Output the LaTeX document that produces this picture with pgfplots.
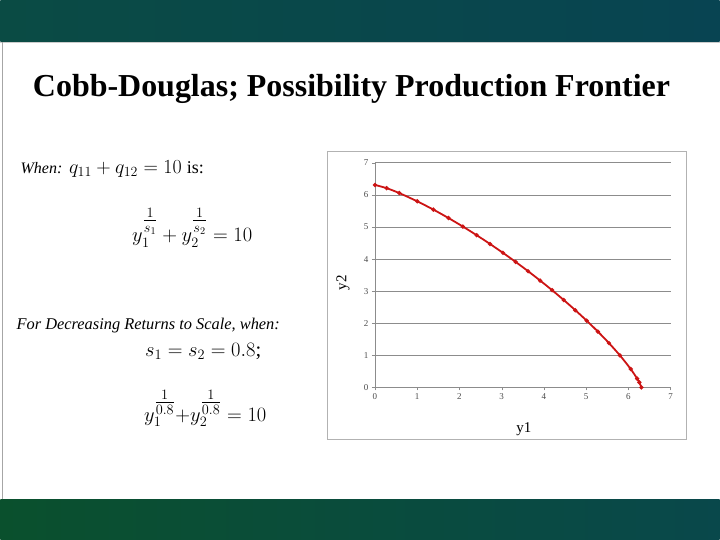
\RequirePackage{fix-cm}
\documentclass[border=0pt]{standalone}
\usepackage{amsmath}
\usepackage{pgfplots}
\pgfplotsset{compat=1.18}
\usepackage{fontspec}
\setmainfont{Liberation Serif}
\definecolor{hdrL}{RGB}{10,75,68}
\definecolor{hdrR}{RGB}{8,68,82}
\definecolor{ftrL}{RGB}{10,80,45}
\definecolor{ftrR}{RGB}{9,72,75}
\definecolor{curve}{RGB}{204,20,20}
\definecolor{gridg}{RGB}{140,140,140}
\newcommand{\sfr}[2]{\raisebox{3pt}{$\genfrac{}{}{}{1}{#1}{#2}$}}
\begin{document}
\begin{tikzpicture}[x=1pt,y=1pt]
% slide background
\fill[white] (0,0) rectangle (720,540);
\shade[left color=hdrL,right color=hdrR] (0,498) rectangle (720,540);
\draw[gray!40,line width=1pt] (0,497.5) -- (720,497.5);
\shade[left color=ftrL,right color=ftrR] (0,0) rectangle (720,40);
\draw[gray!70,line width=0.8pt] (1.5,40) -- (1.5,498);
% title
\node[anchor=base,inner sep=0pt,font=\fontsize{32}{34}\selectfont\bfseries] at (351.5,443) {Cobb-Douglas; Possibility Production Frontier};
% left text
\node[anchor=base west,inner sep=0pt,font=\fontsize{20}{22}\selectfont] at (20,366) {{\fontsize{16}{18}\selectfont\textit{When:}} $q_{11}+q_{12}=10$ {\fontsize{18}{20}\selectfont is:}};
\node[anchor=base,inner sep=0pt,font=\fontsize{20.5}{22}\selectfont] at (192,298) {$y_1^{\sfr{1}{s_1}}+y_2^{\sfr{1}{s_2}}=10$};
\node[anchor=base west,inner sep=0pt,font=\fontsize{16.4}{18}\selectfont\itshape] at (16,210) {For Decreasing Returns to Scale, when:};
\node[anchor=base,inner sep=0pt,font=\fontsize{20.5}{22}\selectfont] at (203,183) {$s_1=s_2=0.8$;};
\node[anchor=base,inner sep=0pt,font=\fontsize{20.5}{22}\selectfont] at (205,118) {$y_1^{\sfr{1}{0.8}}{+}y_2^{\sfr{1}{0.8}}=10$};
% chart frame
\draw[gray!60,line width=0.8pt] (327.5,99.5) rectangle (686.5,388.5);
\begin{axis}[
  at={(375pt,152pt)}, anchor=south west,
  scale only axis, width=296pt, height=225pt,
  xmin=0, xmax=7, ymin=0, ymax=7,
  xtick={0,1,2,3,4,5,6,7}, ytick={0,1,2,3,4,5,6,7},
  axis x line=bottom, axis y line=left,
  axis line style={-, gridg},
  ymajorgrids, major grid style={gridg, line width=0.6pt},
  tick style={gridg}, tick align=outside, major tick length=3pt,
  ticklabel style={font=\fontsize{9}{10}\selectfont, text=black!70},
  /pgf/number format/assume math mode=true,
  clip=false,
]
\addplot[curve, line width=1.8pt, smooth, mark=*, mark size=1.1pt] coordinates {
(0,6.3096) (0.2759,6.2085) (0.5743,6.0562) (1,5.7995) (1.3832,5.5404)
(1.7411,5.2780) (2.0814,5.0124) (2.4082,4.7433) (2.7243,4.4702)
(3.0314,4.1930) (3.3312,3.9110) (3.6239,3.6239) (3.9110,3.3312)
(4.1930,3.0314) (4.4702,2.7243) (4.7433,2.4082) (5.0124,2.0814)
(5.2780,1.7411) (5.5404,1.3832) (5.7995,1) (6.0562,0.5743)
(6.2085,0.2759) (6.2590,0.1585) (6.3096,0)
};
\end{axis}
\node[rotate=90,inner sep=0pt,font=\fontsize{15}{17}\selectfont] at (343,257) {y2};
\node[inner sep=0pt,font=\fontsize{15}{17}\selectfont] at (524,110) {y1};
\end{tikzpicture}
\end{document}
